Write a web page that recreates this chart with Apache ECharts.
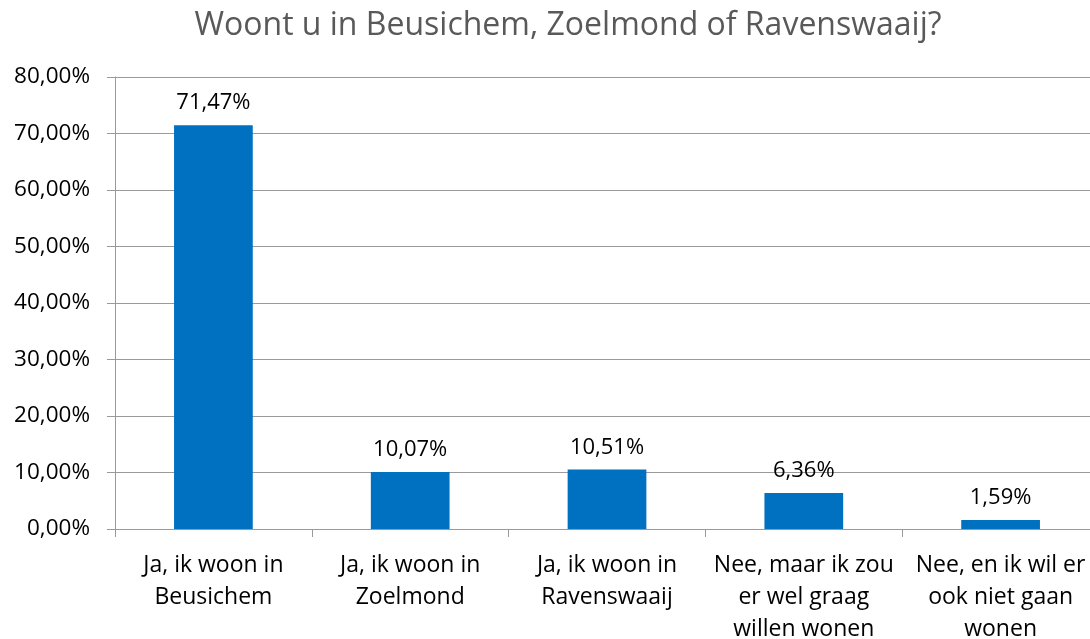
<!DOCTYPE html>
<html><head><meta charset="utf-8">
<script src="https://cdn.jsdelivr.net/npm/echarts@6/dist/echarts.min.js"></script>
<style>html,body{margin:0;padding:0;background:#fff}#c{width:1090px;height:639px}</style>
</head><body><div id="c"></div>
<script>
const title = 'Woont u in Beusichem, Zoelmond of Ravenswaaij?';
const categories = ['Ja, ik woon in\nBeusichem', 'Ja, ik woon in\nZoelmond', 'Ja, ik woon in\nRavenswaaij', 'Nee, maar ik zou\ner wel graag\nwillen wonen', 'Nee, en ik wil er\nook niet gaan\nwonen'];
const values = [71.47, 10.07, 10.51, 6.36, 1.59];
const yMin = 0, yMax = 80, yStep = 10;
const fmt = v => v.toFixed(2).replace('.', ',') + '%';
const chart = echarts.init(document.getElementById('c'), null, {renderer: 'canvas'});
const font = '"Open Sans", sans-serif';
const grey = '#9a9a9a';
chart.setOption({
  animation: false,
  title: {text: title, left: 563, top: 5, textAlign: 'center',
    textStyle: {fontFamily: font, fontWeight: 'normal', fontSize: 32, color: '#595959'}},
  grid: {left: 115, top: 77, width: 984, height: 452, containLabel: false, outerBoundsMode: 'none'},
  xAxis: {type: 'category', data: categories,
    axisLine: {lineStyle: {color: grey, width: 1}},
    axisTick: {show: true, length: 8, lineStyle: {color: grey}},
    axisLabel: {fontFamily: font, fontSize: 23, color: '#000', margin: 20, lineHeight: 32, interval: 0}},
  yAxis: {type: 'value', min: yMin, max: yMax, interval: yStep,
    axisLine: {show: true, lineStyle: {color: grey}},
    axisTick: {show: true, length: 8, lineStyle: {color: grey}},
    splitLine: {lineStyle: {color: grey, width: 1}},
    axisLabel: {fontFamily: font, fontSize: 22.5, color: '#000', margin: 25, formatter: v => fmt(v)}},
  series: [{type: 'bar', data: values, barWidth: '40%',
    itemStyle: {color: '#0070C0'},
    label: {show: true, position: 'top', distance: 11, fontFamily: font, fontSize: 22, color: '#000',
      formatter: p => fmt(p.value)}}]
});
</script></body></html>
